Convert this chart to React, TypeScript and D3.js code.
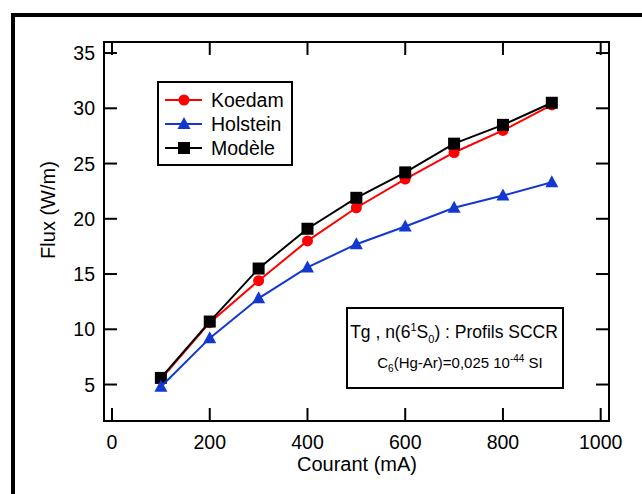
import React, { useEffect, useRef } from 'react';
import * as d3 from 'd3';

const courant = [100, 200, 300, 400, 500, 600, 700, 800, 900];
const koedam = [5.5, 10.6, 14.4, 18.0, 21.0, 23.6, 26.0, 28.0, 30.3];
const holstein = [4.8, 9.2, 12.8, 15.6, 17.7, 19.3, 21.0, 22.1, 23.3];
const modele = [5.6, 10.7, 15.5, 19.1, 21.9, 24.2, 26.8, 28.5, 30.5];
const xTicks = [0, 200, 400, 600, 800, 1000];
const yTicks = [5, 10, 15, 20, 25, 30, 35];

const FONT = 'Liberation Sans, Arial, Helvetica, sans-serif';
const BLUE = '#1238d0';

export default function App() {
  const svgRef = useRef<SVGSVGElement>(null);

  useEffect(() => {
    if (!svgRef.current) return;
    const svg = d3.select(svgRef.current);
    svg.selectAll('*').remove();

    const left = 104, right = 609, top = 42, bottom = 421;
    const x = d3.scaleLinear().domain([-16.4, 1017]).range([left, right]);
    const y = d3.scaleLinear().domain([1.7, 36]).range([bottom, top]);
    const tickLen = 13;

    // outer frame (runs off the page on the right and bottom)
    svg.append('rect')
      .attr('x', 13).attr('y', 15).attr('width', 800).attr('height', 700)
      .attr('fill', 'none').attr('stroke', '#000').attr('stroke-width', 4);

    // plot frame
    svg.append('rect')
      .attr('x', left).attr('y', top).attr('width', right - left).attr('height', bottom - top)
      .attr('fill', 'none').attr('stroke', '#000').attr('stroke-width', 2);

    const ticks = svg.append('g').attr('stroke', '#000').attr('stroke-width', 2);
    xTicks.forEach(t => {
      ticks.append('line').attr('x1', x(t)).attr('x2', x(t)).attr('y1', bottom).attr('y2', bottom - tickLen);
      ticks.append('line').attr('x1', x(t)).attr('x2', x(t)).attr('y1', top).attr('y2', top + tickLen);
    });
    yTicks.forEach(t => {
      ticks.append('line').attr('y1', y(t)).attr('y2', y(t)).attr('x1', left).attr('x2', left + tickLen);
      ticks.append('line').attr('y1', y(t)).attr('y2', y(t)).attr('x1', right).attr('x2', right - tickLen);
    });

    const labels = svg.append('g').attr('font-family', FONT).attr('font-size', 19.5).attr('fill', '#000');
    xTicks.forEach(t => {
      labels.append('text').attr('x', x(t)).attr('y', 449).attr('text-anchor', 'middle').text(t);
    });
    yTicks.forEach(t => {
      labels.append('text').attr('x', 95).attr('y', y(t)).attr('dy', '0.36em').attr('text-anchor', 'end').text(t);
    });
    labels.append('text').attr('x', (left + right) / 2 + 0.5).attr('y', 471).attr('font-size', 20)
      .attr('text-anchor', 'middle').text('Courant (mA)');
    labels.append('text').attr('transform', 'translate(55,210) rotate(-90)').attr('font-size', 20)
      .attr('text-anchor', 'middle').text('Flux (W/m)');

    const line = d3.line<number>().x((d, i) => x(courant[i])).y(d => y(d));

    const drawSeries = (vals: number[], color: string, shape: string) => {
      const g = svg.append('g');
      g.append('path').attr('d', line(vals)).attr('fill', 'none').attr('stroke', color).attr('stroke-width', 2);
      vals.forEach((v, i) => {
        const cx = x(courant[i]), cy = y(v);
        if (shape === 'circle') {
          g.append('circle').attr('cx', cx).attr('cy', cy).attr('r', 5.5).attr('fill', color);
        } else if (shape === 'square') {
          g.append('rect').attr('x', cx - 6).attr('y', cy - 6).attr('width', 12).attr('height', 12).attr('fill', color);
        } else {
          g.append('path').attr('d', `M${cx},${cy - 7}L${cx + 6.5},${cy + 5}L${cx - 6.5},${cy + 5}Z`).attr('fill', color);
        }
      });
    };
    drawSeries(koedam, '#ff0000', 'circle');
    drawSeries(modele, '#000000', 'square');
    drawSeries(holstein, BLUE, 'triangle');

    // legend
    const lg = svg.append('g');
    lg.append('rect').attr('x', 158).attr('y', 82).attr('width', 134).attr('height', 83)
      .attr('fill', '#fff').attr('stroke', '#000').attr('stroke-width', 2);
    const items = [
      { name: 'Koedam', color: '#ff0000', shape: 'circle' },
      { name: 'Holstein', color: BLUE, shape: 'triangle' },
      { name: 'Modèle', color: '#000000', shape: 'square' },
    ];
    items.forEach((it, i) => {
      const cy = 100 + i * 24;
      lg.append('line').attr('x1', 165).attr('x2', 202).attr('y1', cy).attr('y2', cy)
        .attr('stroke', it.color).attr('stroke-width', 2);
      const cx = 184;
      if (it.shape === 'circle') lg.append('circle').attr('cx', cx).attr('cy', cy).attr('r', 5.5).attr('fill', it.color);
      else if (it.shape === 'square') lg.append('rect').attr('x', cx - 6).attr('y', cy - 6).attr('width', 12).attr('height', 12).attr('fill', it.color);
      else lg.append('path').attr('d', `M${cx},${cy - 7}L${cx + 6.5},${cy + 5}L${cx - 6.5},${cy + 5}Z`).attr('fill', it.color);
      lg.append('text').attr('x', 211).attr('y', cy).attr('dy', '0.36em')
        .attr('font-family', FONT).attr('font-size', 19.5).text(it.name);
    });

    // annotation box
    const ab = svg.append('g').attr('font-family', FONT);
    ab.append('rect').attr('x', 347).attr('y', 308).attr('width', 216).attr('height', 80)
      .attr('fill', '#fff').attr('stroke', '#000').attr('stroke-width', 2);
    const t1 = ab.append('text').attr('x', 454).attr('y', 338).attr('text-anchor', 'middle').attr('font-size', 17.5);
    t1.append('tspan').text('Tg , n(6');
    t1.append('tspan').attr('dy', -7).attr('font-size', 11).text('1');
    t1.append('tspan').attr('dy', 7).text('S');
    t1.append('tspan').attr('dy', 5).attr('font-size', 11).text('0');
    t1.append('tspan').attr('dy', -5).text(') : Profils SCCR');
    const t2 = ab.append('text').attr('x', 460).attr('y', 368).attr('text-anchor', 'middle').attr('font-size', 15);
    t2.append('tspan').text('C');
    t2.append('tspan').attr('dy', 4).attr('font-size', 10).text('6');
    t2.append('tspan').attr('dy', -4).text('(Hg-Ar)=0,025 10');
    t2.append('tspan').attr('dy', -6).attr('font-size', 10).text('-44');
    t2.append('tspan').attr('dy', 6).text(' SI');
  }, []);

  return (
    <svg
      ref={svgRef}
      width={642}
      height={494}
      style={{ position: 'absolute', left: 0, top: 0, background: '#fff' }}
    />
  );
}
